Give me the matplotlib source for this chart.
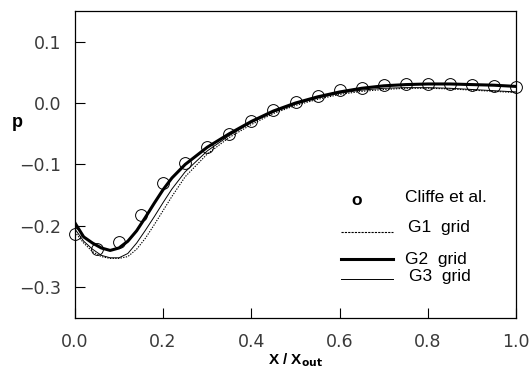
import matplotlib
matplotlib.use("Agg")
import matplotlib.pyplot as plt
from matplotlib.lines import Line2D

# ── data ──────────────────────────────────────────────────────────────────────
x_exp = [0.00, 0.05, 0.10, 0.15, 0.20, 0.25, 0.30, 0.35, 0.40, 0.45, 0.50,
         0.55, 0.60, 0.65, 0.70, 0.75, 0.80, 0.85, 0.90, 0.95, 1.00]
p_exp = [-0.214, -0.237, -0.227, -0.182, -0.131, -0.097, -0.071, -0.050,
         -0.029, -0.011, 0.002, 0.011, 0.021, 0.025, 0.029, 0.031, 0.031,
         0.031, 0.029, 0.028, 0.026]

x_num = [0.00, 0.02, 0.04, 0.06, 0.08, 0.10, 0.12, 0.14, 0.16, 0.18, 0.20,
         0.22, 0.25, 0.30, 0.35, 0.40, 0.45, 0.50, 0.55, 0.60, 0.65, 0.70,
         0.75, 0.80, 0.85, 0.90, 0.95, 1.00]
p_g1 = [-0.210, -0.228, -0.242, -0.250, -0.253, -0.253, -0.250, -0.238,
        -0.220, -0.198, -0.175, -0.152, -0.120, -0.083, -0.056, -0.035,
        -0.017, -0.004, 0.006, 0.014, 0.019, 0.022, 0.024, 0.024, 0.023,
        0.021, 0.019, 0.017]
p_g2 = [-0.195, -0.218, -0.228, -0.236, -0.240, -0.236, -0.225, -0.208,
        -0.186, -0.163, -0.141, -0.122, -0.100, -0.072, -0.050, -0.030,
        -0.013, 0.000, 0.010, 0.018, 0.024, 0.028, 0.030, 0.031, 0.031,
        0.030, 0.029, 0.027]
p_g3 = [-0.205, -0.225, -0.238, -0.248, -0.252, -0.252, -0.245, -0.228,
        -0.207, -0.185, -0.162, -0.140, -0.112, -0.078, -0.053, -0.032,
        -0.015, -0.002, 0.008, 0.016, 0.021, 0.024, 0.025, 0.025, 0.024,
        0.022, 0.020, 0.018]

x_ticks = [0.0, 0.2, 0.4, 0.6, 0.8, 1.0]
y_ticks = [-0.3, -0.2, -0.1, 0.0, 0.1]

# ── figure ────────────────────────────────────────────────────────────────────
plt.rcParams["font.family"] = ["Liberation Sans", "DejaVu Sans"]

fig = plt.figure(figsize=(5.31, 3.75), dpi=100)
ax = fig.add_axes([0.141, 0.152, 0.831, 0.819])

ax.plot(x_num, p_g1, ls=(0, (1.2, 1.2)), color="black", lw=0.8)
ax.plot(x_num, p_g3, "-", color="black", lw=0.7)
ax.plot(x_num, p_g2, "-", color="black", lw=2.2)
ax.plot(x_exp, p_exp, "o", ms=8.5, mfc="none", mec="black", mew=0.7,
        clip_on=False)

ax.set_xlim(0, 1)
ax.set_ylim(-0.35, 0.15)
ax.set_xticks(x_ticks)
ax.set_yticks(y_ticks)
ax.set_xticklabels([f"{v:.1f}" for v in x_ticks])
ax.set_yticklabels([f"{v:.1f}".replace("-", "\u2212") for v in y_ticks])
ax.tick_params(direction="in", length=7, width=0.8, labelsize=12.5,
               labelcolor="#3a3a3a")
ax.tick_params(axis="x", pad=11)
ax.tick_params(axis="y", pad=10)
for lbl in ax.get_xticklabels() + ax.get_yticklabels():
    lbl.set_family(["DejaVu Sans"])
for s in ax.spines.values():
    s.set_linewidth(0.9)

ax.set_xlabel(r"X / X$_{\mathbf{out}}$", fontsize=11, fontweight="bold",
              labelpad=0)
ax.set_ylabel("p", fontsize=13, fontweight="bold", rotation=0)
ax.yaxis.set_label_coords(-0.131, 0.635)
ax.yaxis.label.set_verticalalignment("center")

# ── legend drawn by hand in axes coordinates ──────────────────────────────────
tr = ax.transAxes
ax.text(0.639, 0.384, "o", transform=tr, fontsize=12.5, fontweight="bold",
        ha="center", va="center")
ax.text(0.748, 0.391, "Cliffe et al.", transform=tr, fontsize=12.5,
        va="center")
ax.add_line(Line2D([0.603, 0.721], [0.280, 0.280], transform=tr,
                   color="black", lw=0.8, ls=(0, (2, 1))))
ax.text(0.755, 0.296, "G1  grid", transform=tr, fontsize=12.5, va="center")
ax.add_line(Line2D([0.603, 0.721], [0.192, 0.192], transform=tr,
                   color="black", lw=2.2))
ax.text(0.748, 0.189, "G2  grid", transform=tr, fontsize=12.5, va="center")
ax.add_line(Line2D([0.603, 0.721], [0.127, 0.127], transform=tr,
                   color="black", lw=0.7))
ax.text(0.757, 0.134, "G3  grid", transform=tr, fontsize=12.5, va="center")

fig.savefig("out.png", dpi=100)
